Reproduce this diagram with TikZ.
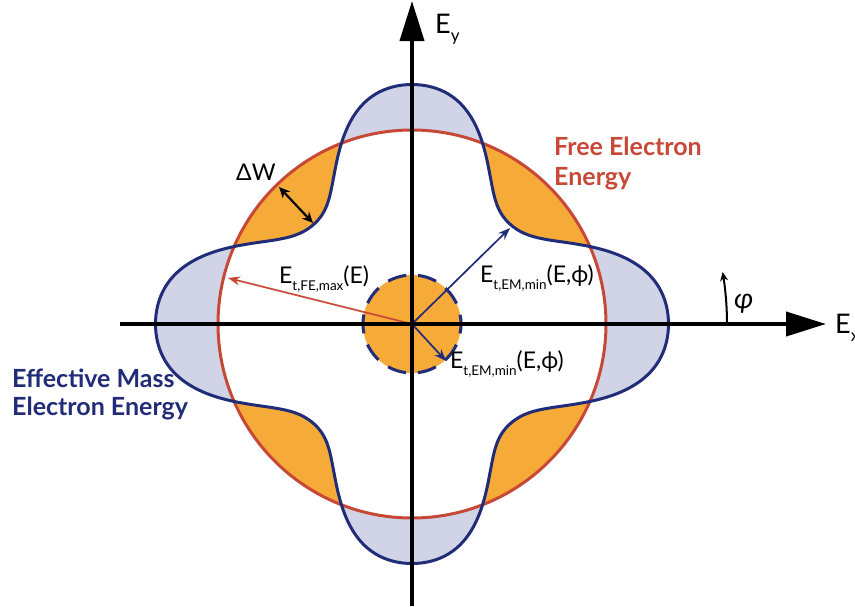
\documentclass[tikz,border=0pt]{standalone}
\usepackage{fontspec}
\setmainfont{Lato}
\usetikzlibrary{arrows.meta}
\definecolor{fered}{RGB}{200,72,55}
\definecolor{emblue}{RGB}{33,44,120}
\definecolor{fillor}{RGB}{246,170,55}
\definecolor{fillbl}{RGB}{208,212,230}
\newcommand\lsub[1]{\raisebox{-7pt}{\fontsize{13.5}{14}\selectfont #1}}
\newcommand\axsub[1]{\raisebox{-8pt}{\fontsize{17}{17}\selectfont #1}}
\begin{document}
\begin{tikzpicture}[x=1pt,y=-1pt,
  declare function={cq(\t)=cos(4*\t); rb(\t)=194+7*cos(2*\t)+(54+1.5*cos(2*\t))*(1.2*cq(\t)-0.2*cq(\t)^3);},
  axisline/.style={line width=4pt, -{Triangle[length=40pt,width=24pt]}},
  lbl/.style={inner sep=0pt, anchor=base west, font=\fontsize{23}{23}\selectfont},
  axlbl/.style={inner sep=0pt, anchor=base west, font=\fontsize{27}{27}\selectfont},
  boldlbl/.style={inner sep=0pt, anchor=base west, font=\fontsize{25}{25}\selectfont\bfseries},
  thinarrow/.style={line width=1.7pt, -{Stealth[length=12pt,width=9pt]}},
]
\useasboundingbox (0,0) rectangle (855,606);
\coordinate (O) at (412,324);
% regions
\fill[fillor] (O) circle[radius=194pt];
\fill[fillbl] plot[domain=0:360,samples=361,smooth] ({412+rb(\x)*cos(\x)},{324-rb(\x)*sin(\x)}) -- cycle;
\begin{scope}
  \clip (O) circle[radius=194pt];
  \fill[white] plot[domain=0:360,samples=361,smooth] ({412+rb(\x)*cos(\x)},{324-rb(\x)*sin(\x)}) -- cycle;
\end{scope}
% contours
\draw[fered, line width=3pt] (O) circle[radius=194pt];
\draw[emblue, line width=3pt] plot[domain=0:360,samples=361,smooth] ({412+rb(\x)*cos(\x)},{324-rb(\x)*sin(\x)}) -- cycle;
% central disc
\fill[fillor] (O) circle[radius=49pt];
\draw[emblue, line width=3pt, dash pattern=on 19pt off 11.8pt, dash phase=9.5pt] (O) ++(49pt,0) arc[start angle=0, end angle=-360, radius=49pt];
% vector arrows
\coordinate (fetip) at (228,278);
\coordinate (emtip) at (510,228);
\coordinate (mintip) at (446,361);
\draw[fered, thinarrow] (O) -- (fetip);
\draw[emblue, thinarrow] (O) -- (emtip);
\draw[emblue, thinarrow] (O) -- (mintip);
% Delta W arrow
\coordinate (dwa) at (279,187);
\coordinate (dwb) at (313,223);
\draw[line width=2.2pt, {Stealth[length=11pt,width=10pt]}-{Stealth[length=11pt,width=10pt]}] (dwa) -- (dwb);
% axes
\coordinate (xl) at (120,324);
\coordinate (xr) at (826,324);
\coordinate (yb) at (412,606);
\coordinate (yt) at (412,1);
\draw[axisline] (xl) -- (xr);
\draw[axisline] (yb) -- (yt);
% phi arc
\draw[line width=2pt, -{Stealth[length=9pt,width=8pt]}] plot[domain=0:9.5,samples=20] ({412+315*cos(\x)},{324-315*sin(\x)});
% labels
\node[axlbl] (ey) at (435,33) {E\axsub{y}};
\node[axlbl] (ex) at (835,333) {E\axsub{x}};
\node[axlbl, font=\fontsize{28}{28}\selectfont\itshape] (phi) at (734,308) {φ};
\node[lbl] (dw) at (236,180) {ΔW};
\node[lbl] (fel) at (279,283) {E\lsub{t,FE,max}(E)};
\node[lbl] (eml) at (480,282) {E\lsub{t,EM,min}(E,ϕ)};
\node[lbl] (emll) at (450,368) {E\lsub{t,EM,min}(E,ϕ)};
\node[boldlbl, text=fered] (fe1) at (554,155) {Free Electron};
\node[boldlbl, text=fered] (fe2) at (554,185) {Energy};
\node[boldlbl, text=emblue] (em1) at (12,387) {Effective Mass};
\node[boldlbl, text=emblue] (em2) at (12,415) {Electron Energy};
\end{tikzpicture}
\end{document}
